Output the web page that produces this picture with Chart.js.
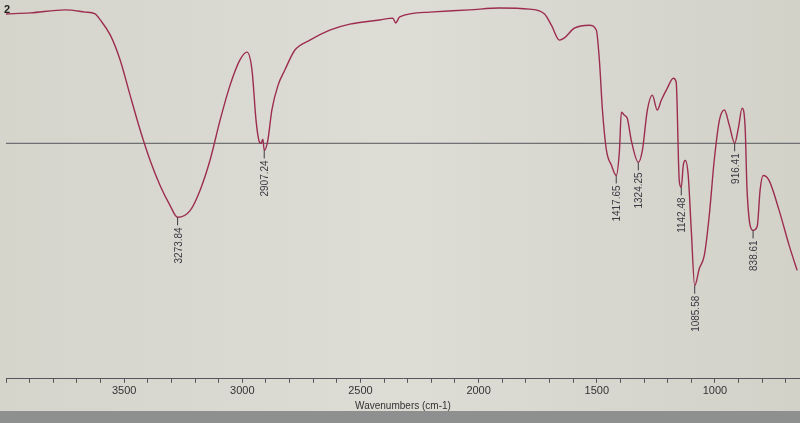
<!DOCTYPE html>
<html lang="en">
<head>
<meta charset="UTF-8">
<title>IR spectrum</title>
<style>
    html, body {
        margin: 0;
        padding: 0;
        background: #d8d7cf;
    }
    .wrap {
        position: relative;
        width: 800px;
        height: 423px;
    }
</style>
<script src="https://cdn.jsdelivr.net/npm/chart.js"></script>
</head>
<body>
<div class="wrap">
    <canvas id="irChart" width="800" height="423"></canvas>
</div>
<script>
// spectrum: wavenumber (cm-1) and %T
const wavenumbers = [4000, 3897, 3749, 3665, 3623, 3601, 3559, 3517, 3475, 3432, 3390, 3348, 3306, 3273.84,
    3221, 3179, 3137, 3094, 3052, 3010, 2980, 2959, 2942, 2930, 2921, 2913, 2907.24, 2892, 2875, 2849, 2820,
    2778, 2714, 2630, 2545, 2418, 2363, 2351, 2334, 2207, 2038, 1911, 1785, 1721, 1692, 1658, 1637, 1595,
    1531, 1502, 1489, 1476, 1459, 1438, 1417.65, 1404, 1396, 1383, 1371, 1354, 1324.25, 1307, 1286, 1265,
    1244, 1227, 1202, 1176, 1164, 1151, 1142.48, 1134, 1125, 1113, 1100, 1085.58, 1066, 1045, 1024, 1003,
    981, 960, 939, 916.41, 901, 885, 872, 864, 838.61, 821, 809, 796, 771, 728, 686, 652];
const transmittance = [97.6, 97.9, 98.7, 98.1, 97.6, 96.0, 92.0, 85.3, 75.9, 66.5, 58.4, 51.7, 46.4, 43.2,
    45.0, 50.4, 58.4, 69.2, 78.5, 85.3, 87.4, 82.6, 69.2, 63.8, 63.0, 64.1, 61.1, 63.8, 71.9, 78.5, 82.6,
    87.9, 90.6, 93.3, 94.9, 96.0, 96.5, 95.2, 96.8, 98.1, 98.7, 99.2, 98.9, 97.6, 94.6, 90.6, 91.2, 93.8,
    94.6, 93.3, 85.3, 71.9, 61.1, 57.1, 54.4, 61.1, 71.3, 70.5, 69.7, 63.8, 57.9, 61.1, 71.9, 75.9,
    71.9, 74.5, 77.7, 80.4, 79.4, 53.1, 51.2, 57.1, 58.4, 54.4, 39.7, 24.9, 29.5, 33.0, 43.7, 58.4,
    69.2, 71.9, 67.8, 63.0, 67.0, 72.4, 67.0, 50.4, 39.7, 40.8, 50.4, 54.4, 53.1, 45.0, 35.7, 29.0];

// labelled peaks
const peakLabels = ['3273.84', '2907.24', '1417.65', '1324.25', '1142.48', '1085.58', '916.41', '838.61'];
const peakWavenumbers = [3273.84, 2907.24, 1417.65, 1324.25, 1142.48, 1085.58, 916.41, 838.61];

// horizontal reference line
const refLevel = 63.0;
const xRange = [640, 4000];

const spectrum = wavenumbers.map((w, i) => ({x: w, y: transmittance[i]}));

const backdrop = {
    id: 'backdrop',
    beforeDraw(chart) {
        const c = chart.ctx;
        const g = c.createLinearGradient(0, 0, 800, 0);
        g.addColorStop(0, '#d6d5cc');
        g.addColorStop(0.5, '#dddcd5');
        g.addColorStop(1, '#d3d2c9');
        c.save();
        c.fillStyle = g;
        c.fillRect(0, 0, chart.width, chart.height);
        c.fillStyle = '#8e8f8f';
        c.fillRect(0, 411, chart.width, chart.height - 411);
        c.restore();
    },
    afterDraw(chart) {
        const c = chart.ctx;
        const xs = chart.scales.x;
        const ys = chart.scales.y;
        c.save();
        c.font = 'bold 11px "Liberation Sans", Arial, sans-serif';
        c.fillStyle = '#222';
        c.textBaseline = 'top';
        c.fillText('2', 4, 4);

        c.font = '10px "Liberation Sans", Arial, sans-serif';
        c.fillStyle = '#3a3a44';
        c.strokeStyle = '#3a3a44';
        c.lineWidth = 1;
        peakWavenumbers.forEach((w, i) => {
            const idx = wavenumbers.indexOf(w);
            const px = xs.getPixelForValue(w);
            const py = ys.getPixelForValue(transmittance[idx]);
            c.beginPath();
            c.moveTo(px, py);
            c.lineTo(px, py + 8);
            c.stroke();
            c.save();
            c.translate(px + 4, py + 10);
            c.rotate(-Math.PI / 2);
            c.textAlign = 'right';
            c.textBaseline = 'alphabetic';
            c.fillText(peakLabels[i], 0, 0);
            c.restore();
        });
        c.restore();
    }
};

new Chart(document.getElementById('irChart'), {
    type: 'line',
    data: {
        datasets: [{
            data: spectrum,
            borderColor: '#9c2d4f',
            borderWidth: 1.4,
            pointRadius: 0,
            cubicInterpolationMode: 'monotone',
            fill: false
        }, {
            data: [{x: xRange[1], y: refLevel}, {x: xRange[0], y: refLevel}],
            borderColor: '#55565c',
            borderWidth: 1,
            pointRadius: 0,
            fill: false
        }]
    },
    options: {
        responsive: false,
        animation: false,
        layout: {
            padding: {left: 6, right: 0, top: 5, bottom: 0}
        },
        plugins: {
            legend: {display: false},
            tooltip: {enabled: false}
        },
        scales: {
            x: {
                type: 'linear',
                reverse: true,
                min: xRange[0],
                max: xRange[1],
                afterBuildTicks(scale) {
                    const t = [];
                    for (let v = 700; v <= 4000; v += 100) t.push({value: v});
                    scale.ticks = t;
                },
                ticks: {
                    autoSkip: false,
                    maxRotation: 0,
                    padding: 2,
                    color: '#333',
                    font: {size: 11, family: '"Liberation Sans", Arial, sans-serif'},
                    callback: (v) => (v % 500 === 0 && v < 4000 ? v : '')
                },
                grid: {
                    drawOnChartArea: false,
                    color: '#55565c',
                    tickLength: 4
                },
                border: {color: '#55565c', width: 1},
                title: {
                    display: true,
                    text: 'Wavenumbers (cm-1)',
                    color: '#333',
                    padding: {top: 0, bottom: 11},
                    font: {size: 10, family: '"Liberation Sans", Arial, sans-serif'}
                }
            },
            y: {
                display: false,
                min: 0,
                max: 100
            }
        }
    },
    plugins: [backdrop]
});
</script>
</body>
</html>
